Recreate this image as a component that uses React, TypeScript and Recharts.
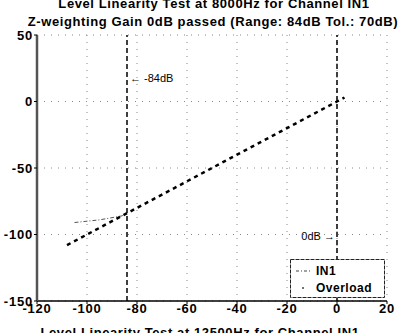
import React from "react";
import {
  ComposedChart,
  Line,
  XAxis,
  YAxis,
  CartesianGrid,
  ReferenceLine,
  ReferenceDot,
} from "recharts";

const titleLine1 = "Level Linearity Test at 8000Hz for Channel IN1";
const titleLine2 = "Z-weighting Gain 0dB passed (Range: 84dB Tol.: 70dB)";
const nextTitle = "Level Linearity Test at 12500Hz for Channel IN1";

const xTicks = [-120, -100, -80, -60, -40, -20, 0, 20];
const yTicks = [-150, -100, -50, 0, 50];

// measured output level vs input level (IN1)
const inputLevels = [-108, -100, -90, -84, -80, -70, -60, -50, -40, -30, -20, -10, 0, 3];
const outputLevels = [-108, -100, -90, -84, -80, -70, -60, -50, -40, -30, -20, -10, 0, 3];

// thin dash-dot trace at the low end
const traceX = [-105, -95, -86, -84];
const traceY = [-91, -89, -86, -84];

const markerLines = [-84, 0];
const annotations = [
  { x: -84, y: 18, text: "\u2190 -84dB", anchor: "start" },
  { x: 0, y: -101, text: "0dB \u2192", anchor: "end" },
];

const legendItems = ["IN1", "Overload"];

const mainData = inputLevels.map((x, i) => ({ x, y: outputLevels[i] }));
const traceData = traceX.map((x, i) => ({ x, y: traceY[i] }));

const FONT = "'Liberation Sans', Arial, Helvetica, sans-serif";
const tickStyle = { fill: "#000", fontFamily: FONT, fontWeight: 700, fontSize: 13, letterSpacing: 0.8 };

const makeAnnotationLabel = (text: string, anchor: string) => (props: any) => {
  const vb = props.viewBox || {};
  const x = vb.x ?? 0;
  const y = vb.y ?? 0;
  return (
    <text
      x={anchor === "start" ? x + 3 : x - 2}
      y={y + 4}
      textAnchor={anchor as any}
      fontFamily={FONT}
      fontSize={11}
      fill="#000"
    >
      {text}
    </text>
  );
};

export default function App() {
  return (
    <div style={{ position: "fixed", left: 0, top: 0, width: 402, height: 333, background: "#fff", overflow: "hidden" }}>
      <ComposedChart
        width={402}
        height={333}
        margin={{ top: 35, right: 15, bottom: 14, left: 7 }}
      >
        <CartesianGrid
          stroke="#888"
          strokeDasharray="1 6"
          horizontalValues={yTicks}
          verticalValues={xTicks}
        />
        <XAxis
          type="number"
          dataKey="x"
          domain={[-120, 20]}
          ticks={xTicks}
          allowDataOverflow
          height={18}
          tickSize={3}
          tickMargin={0}
          tickLine={{ stroke: "#000" }}
          axisLine={{ stroke: "#000", strokeWidth: 1.5 }}
          tick={tickStyle}
        />
        <XAxis
          xAxisId="top"
          orientation="top"
          type="number"
          dataKey="x"
          domain={[-120, 20]}
          ticks={xTicks}
          height={0}
          tick={false}
          tickLine={false}
          axisLine={{ stroke: "#333", strokeWidth: 1 }}
        />
        <YAxis
          type="number"
          domain={[-150, 50]}
          ticks={yTicks}
          allowDataOverflow
          width={30}
          tickSize={3}
          tickMargin={1}
          tickLine={{ stroke: "#000" }}
          axisLine={{ stroke: "#555", strokeWidth: 2.5 }}
          tick={tickStyle}
        />
        <YAxis
          yAxisId="right"
          orientation="right"
          type="number"
          domain={[-150, 50]}
          width={0}
          tick={false}
          tickLine={false}
          axisLine={{ stroke: "#666", strokeWidth: 2 }}
        />
        {markerLines.map((m) => (
          <ReferenceLine
            key={m}
            x={m}
            stroke="#000"
            strokeWidth={1.5}
            strokeDasharray="5 3"
          />
        ))}
        <Line
          data={traceData}
          dataKey="y"
          type="linear"
          stroke="#555"
          strokeWidth={1}
          strokeDasharray="4 2 1 2"
          dot={false}
          isAnimationActive={false}
          legendType="none"
        />
        <Line
          data={mainData}
          dataKey="y"
          name="IN1"
          type="linear"
          stroke="#000"
          strokeWidth={2.5}
          strokeDasharray="4 4"
          dot={false}
          isAnimationActive={false}
        />
        {annotations.map((a) => (
          <ReferenceDot
            key={a.text}
            x={a.x}
            y={a.y}
            r={0}
            fill="none"
            stroke="none"
            label={{ content: makeAnnotationLabel(a.text, a.anchor) } as any}
          />
        ))}
      </ComposedChart>
      <svg width={402} height={333} style={{ position: "absolute", left: 0, top: 0, pointerEvents: "none" }}>
        <text x={214} y={8} textAnchor="middle" fontFamily={FONT} fontWeight={700} fontSize={13} letterSpacing={0.6} fill="#000">
          {titleLine1}
        </text>
        <text x={213} y={26} textAnchor="middle" fontFamily={FONT} fontWeight={700} fontSize={13} letterSpacing={0.6} fill="#000">
          {titleLine2}
        </text>
        <text x={200} y={337} textAnchor="middle" fontFamily={FONT} fontWeight={700} fontSize={13} letterSpacing={0.6} fill="#000">
          {nextTitle}
        </text>
        <g transform="translate(290,259)">
          <rect x={0.5} y={0.5} width={94} height={38} fill="#fff" stroke="#222" strokeWidth={1} strokeDasharray="4 1" />
          <line x1={6} y1={12} x2={20} y2={12} stroke="#444" strokeWidth={1} strokeDasharray="3 2 1 2" />
          <text x={26} y={16} fontFamily={FONT} fontWeight={700} fontSize={12} letterSpacing={0.5} fill="#000">
            {legendItems[0]}
          </text>
          <circle cx={13} cy={29} r={1} fill="#444" />
          <text x={26} y={33} fontFamily={FONT} fontWeight={700} fontSize={12} letterSpacing={0.5} fill="#000">
            {legendItems[1]}
          </text>
        </g>
      </svg>
    </div>
  );
}
